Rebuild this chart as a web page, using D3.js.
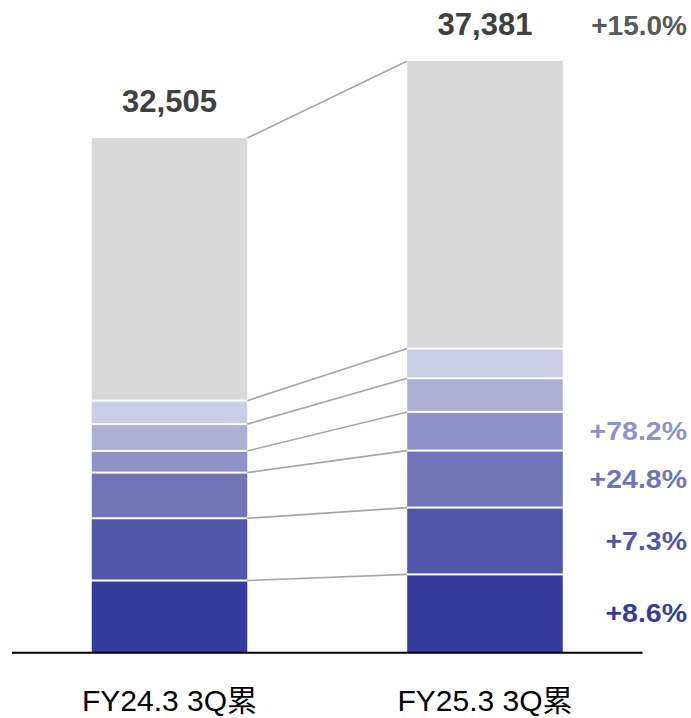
<!DOCTYPE html>
<html>
<head>
<meta charset="utf-8">
<script src="https://cdn.jsdelivr.net/npm/d3@7"></script>
<style>
  html, body { margin: 0; padding: 0; background: #fff; }
  svg { display: block; font-family: "Liberation Sans", Arial, "Noto Sans CJK JP", sans-serif; }
</style>
</head>
<body>
<svg id="chart" width="691" height="718"></svg>
<script>
// categories and stacked segment values (bottom -> top)
const categories = ["FY24.3 3Q累", "FY25.3 3Q累"];
const segmentKeys = ["s1", "s2", "s3", "s4", "s5", "s6", "s7"];
const valuesFY24 = [4520, 3938, 2889, 1372, 1694, 1485, 16607];
const valuesFY25 = [4909, 4225, 3605, 2445, 2130, 1877, 18190];
const totals = ["32,505", "37,381"];
// growth labels per segment (null = no label)
const growthLabels = ["+8.6%", "+7.3%", "+24.8%", "+78.2%", null, null, "+15.0%"];
const segmentColors = ["#353b9a", "#5057a8", "#7175b7", "#8f92c9", "#adafd7", "#cbcde6", "#d9d9d9"];
const labelColors = ["#353b9a", "#5057a8", "#7175b7", "#8f92c9", null, null, "#595959"];

const svg = d3.select("#chart");

const x = d3
  .scaleBand()
  .domain(categories)
  .range([12, 642.5])
  .paddingInner(0.507)
  .paddingOuter(0.2528);

const y = d3.scaleLinear().domain([0, 37381]).range([652, 61]);

const rows = categories.map((c, i) => {
  const vals = i === 0 ? valuesFY24 : valuesFY25;
  const row = { cat: c };
  segmentKeys.forEach((k, j) => (row[k] = vals[j]));
  return row;
});

const series = d3.stack().keys(segmentKeys)(rows);

// connector lines between the two bars
const connectors = series.map((s) => ({ y1: s[0][1], y2: s[1][1] }));
svg
  .append("g")
  .selectAll("line")
  .data(connectors)
  .enter()
  .append("line")
  .attr("x1", x(categories[0]) + x.bandwidth())
  .attr("x2", x(categories[1]))
  .attr("y1", (d) => y(d.y1))
  .attr("y2", (d) => y(d.y2))
  .attr("stroke", "#a6a6a6")
  .attr("stroke-width", 1.6);

// stacked segments
const layers = svg
  .append("g")
  .selectAll("g")
  .data(series)
  .enter()
  .append("g")
  .attr("fill", (d, i) => segmentColors[i]);

layers
  .selectAll("rect")
  .data((d) => d.map((p) => ({ p, idx: d.index })))
  .enter()
  .append("rect")
  .attr("x", (d) => x(d.p.data.cat))
  .attr("width", x.bandwidth())
  .attr("y", (d) => y(d.p[1]) + (d.idx === segmentKeys.length - 1 ? 0 : 1))
  .attr("height", (d) => {
    const top = y(d.p[1]) + (d.idx === segmentKeys.length - 1 ? 0 : 1);
    const bottom = y(d.p[0]) - (d.idx === 0 ? 0 : 1);
    return bottom - top;
  });

// baseline
svg
  .append("line")
  .attr("x1", x.range()[0])
  .attr("x2", x.range()[1])
  .attr("y1", y(0) + 0.8)
  .attr("y2", y(0) + 0.8)
  .attr("stroke", "#000")
  .attr("stroke-width", 2);

// totals above bars
svg
  .append("g")
  .selectAll("text")
  .data(categories)
  .enter()
  .append("text")
  .attr("x", (d) => x(d) + x.bandwidth() / 2)
  .attr("y", (d, i) => y(d3.sum(i === 0 ? valuesFY24 : valuesFY25)) - 26)
  .attr("text-anchor", "middle")
  .attr("font-size", 31)
  .attr("font-weight", "bold")
  .attr("fill", "#404040")
  .text((d, i) => totals[i]);

// growth labels on the right
const lastSeries = series.map((s) => s[1]);
const rightX = 687;
svg
  .append("g")
  .selectAll("text")
  .data(lastSeries.map((p, i) => ({ p, i })).filter((d) => growthLabels[d.i]))
  .enter()
  .append("text")
  .attr("transform", (d) => {
    const top = d.i === segmentKeys.length - 1;
    const ty = top ? y(d.p[1]) - 26 : (y(d.p[0]) + y(d.p[1])) / 2 + 9;
    return `translate(${rightX}, ${ty}) scale(${top ? 1 : 1.14}, 1)`;
  })
  .attr("text-anchor", "end")
  .attr("font-size", (d) => (d.i === segmentKeys.length - 1 ? 28 : 25))
  .attr("font-weight", "bold")
  .attr("fill", (d) => labelColors[d.i])
  .text((d) => growthLabels[d.i]);

// category labels
svg
  .append("g")
  .selectAll("text")
  .data(categories)
  .enter()
  .append("text")
  .attr("x", (d) => x(d) + x.bandwidth() / 2)
  .attr("y", 711)
  .attr("text-anchor", "middle")
  .attr("font-size", 30)
  .attr("fill", "#000")
  .text((d) => d);
</script>
</body>
</html>
